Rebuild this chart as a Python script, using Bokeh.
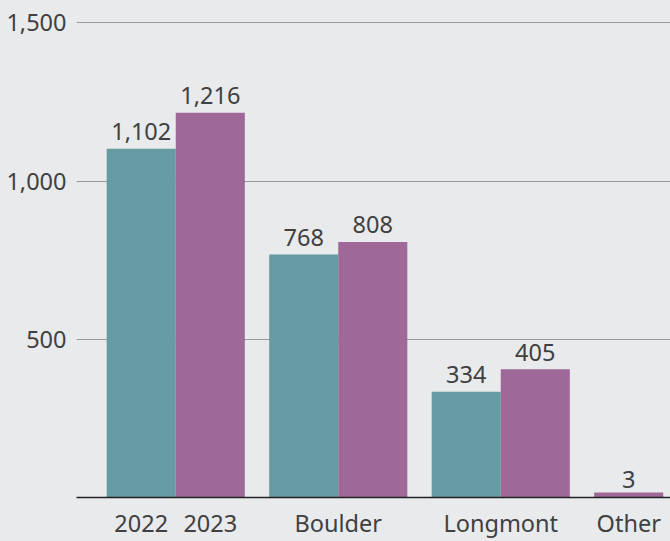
from bokeh.plotting import figure
from bokeh.models import FixedTicker, NumeralTickFormatter, Range1d, ColumnDataSource
from bokeh.core.properties import value
from bokeh.embed import file_html
from bokeh.resources import INLINE

# Data
groups = ["Total", "Boulder", "Longmont", "Other"]
values_2022 = [1102, 768, 334]          # Other has no 2022 bar
values_2023 = [1216, 808, 405, 3]
x_tick_labels = ["2022", "2023", "Boulder", "Longmont", "Other"]
y_ticks = [500, 1000, 1500]

BG = "#e9eaec"
TEAL = "#669ba1"
PURPLE = "#9e6898"
TEXT = "#404040"
FONT = "Noto Sans"
FS = "23.5px"

W = 0.425
x22 = [i + 1 - W / 2 for i in range(len(values_2022))]
x23 = [i + 1 + W / 2 for i in range(3)] + [4 - W / 2]

p = figure(width=670, height=541, output_backend="svg", toolbar_location=None,
           x_range=Range1d(0.3892, 4.0446), y_range=Range1d(0, 1571),
           min_border_left=76, min_border_right=0, min_border_top=0, min_border_bottom=44)
p.background_fill_color = BG
p.border_fill_color = BG
p.outline_line_color = None

s22 = ColumnDataSource(dict(x=x22, top=values_2022, lab=[f"{v:,}" for v in values_2022]))
s23 = ColumnDataSource(dict(x=x23, top=values_2023, lab=[f"{v:,}" for v in values_2023]))

p.vbar(x="x", top="top", width=W, source=s22, fill_color=TEAL, line_color=None)
p.vbar(x="x", top="top", width=W, source=s23, fill_color=PURPLE, line_color=None)

# minimum visible bar height for tiny values (as in the reference)
tiny_x = [x for x, v in zip(x23, values_2023) if v < 15]
if tiny_x:
    p.rect(x=tiny_x, y=[0] * len(tiny_x), width=W, height=10, height_units="screen",
           fill_color=PURPLE, line_color=None)

for s in (s22, s23):
    p.text(x="x", y="top", text="lab", source=s, text_align="center",
           text_baseline="alphabetic", y_offset=-17, text_color=TEXT,
           text_font=value(FONT), text_font_size=FS)

# Axes
p.xaxis.ticker = FixedTicker(ticks=[x22[0], x23[0], 2, 3, x23[3]])
p.xaxis.major_label_overrides = {x22[0]: x_tick_labels[0], x23[0]: x_tick_labels[1],
                                 2: x_tick_labels[2], 3: x_tick_labels[3], x23[3]: x_tick_labels[4]}
p.xaxis.axis_line_color = "#222222"
p.xaxis.axis_line_width = 1.5
p.xaxis.major_tick_line_color = None
p.xaxis.minor_tick_line_color = None
p.xaxis.major_label_standoff = 3
p.xaxis.major_label_text_font = FONT
p.xaxis.major_label_text_font_size = FS
p.xaxis.major_label_text_color = TEXT

p.yaxis.ticker = FixedTicker(ticks=y_ticks)
p.yaxis.formatter = NumeralTickFormatter(format="0,0")
p.yaxis.axis_line_color = None
p.yaxis.major_tick_line_color = None
p.yaxis.minor_tick_line_color = None
p.yaxis.major_label_standoff = 4
p.yaxis.major_label_text_font = FONT
p.yaxis.major_label_text_font_size = FS
p.yaxis.major_label_text_color = TEXT

p.xgrid.grid_line_color = None
p.ygrid.ticker = FixedTicker(ticks=y_ticks)
p.ygrid.grid_line_color = "#999999"
p.ygrid.grid_line_width = 1

html = file_html(p, INLINE)
html = html.replace("</head>", "<style>html,body{margin:0;padding:0;overflow:hidden;background:%s;}</style></head>" % BG, 1)
open("out.html", "w").write(html)
